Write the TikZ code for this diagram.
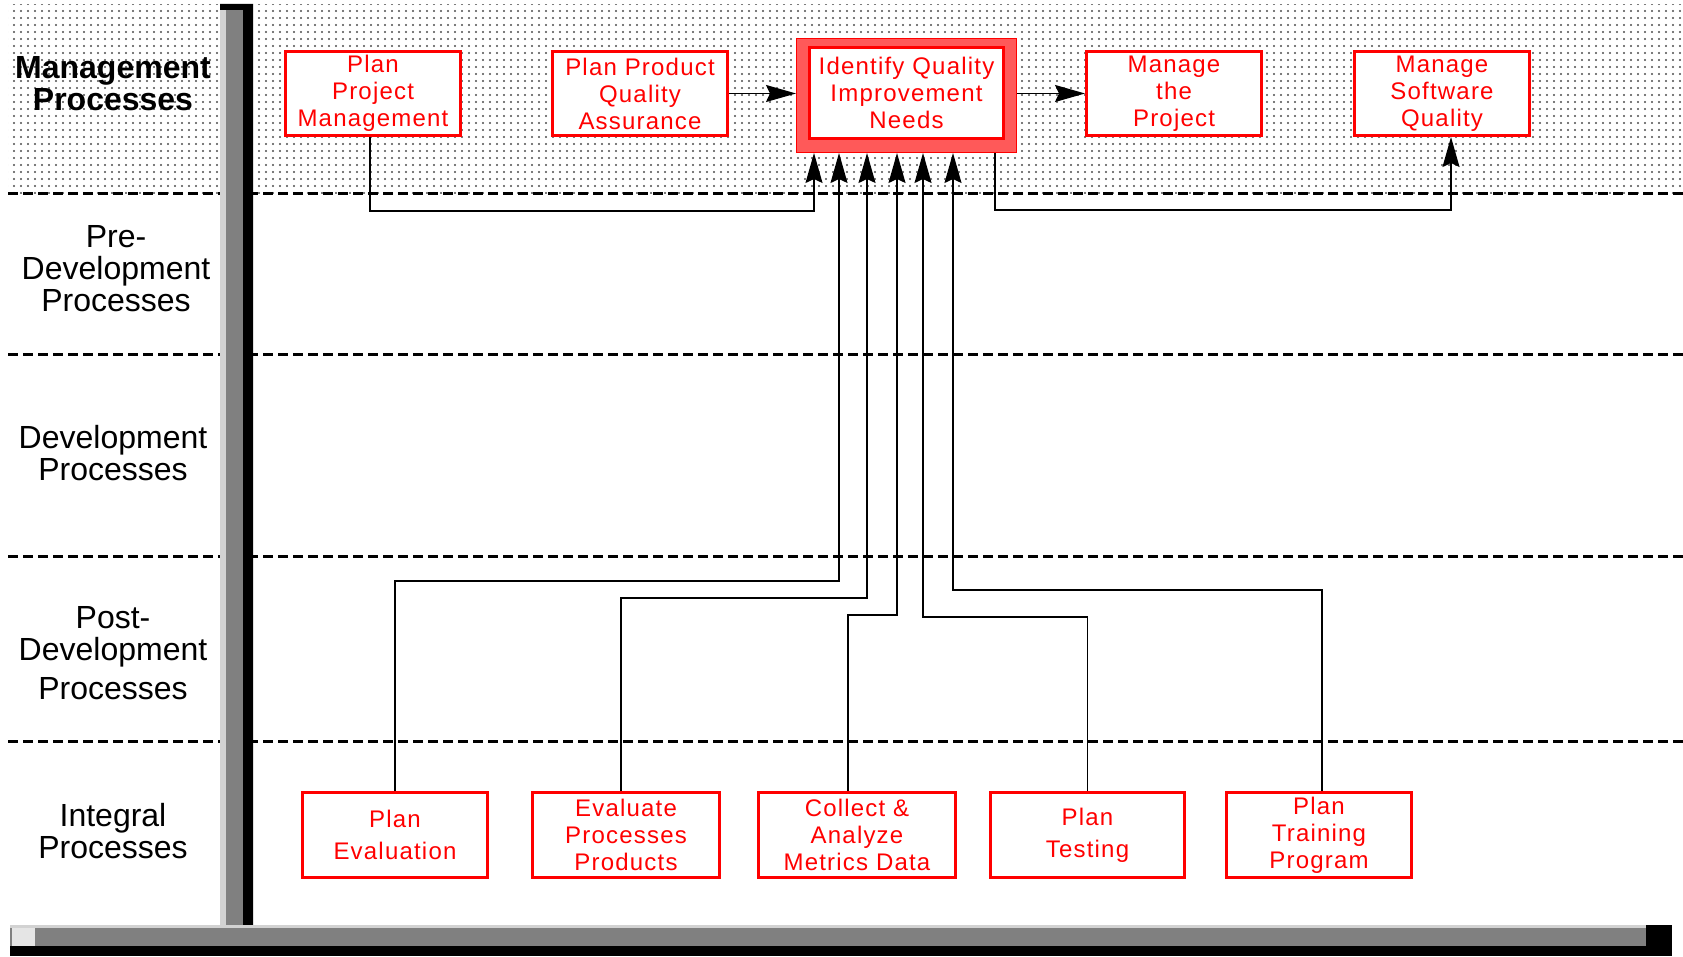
\documentclass[tikz,border=0pt]{standalone}
\usepackage{fontspec}
\setmainfont{Liberation Sans}
\newfontfamily\boxfont[LetterSpace=5]{Liberation Sans}
\usetikzlibrary{arrows.meta,positioning,patterns}
\pgfdeclarepatternformonly{bgdots}{\pgfqpoint{-1.5pt}{-1.5pt}}{\pgfqpoint{1.5pt}{1.5pt}}{\pgfqpoint{7pt}{7pt}}{\pgfpathcircle{\pgfqpoint{0pt}{0pt}}{1.1pt}\pgfusepath{fill}}

\begin{document}
\begin{tikzpicture}[x=1pt,y=1pt,
box/.style={draw=red,line width=3pt,fill=white,text=red,font=\boxfont\fontsize{24}{27}\selectfont,minimum width=175pt,minimum height=84pt,inner sep=0pt,align=center},
bot/.style={box,minimum height=85pt},
lane/.style={font=\fontsize{32}{32}\selectfont,align=center,inner sep=0pt},
sep/.style={line width=3pt,dash pattern=on 10pt off 5pt},
arr/.style={-{Stealth[length=30pt,width=17pt,inset=4pt]},line width=1.6pt}]
\useasboundingbox (0,0) rectangle (1683,956);
\fill[pattern=bgdots,pattern color=black!70] (8,762) rectangle (1683,951);
\foreach \y in {762,601,399,214} \draw[sep] (8,\y) -- (1683,\y);
\node[lane,font=\bfseries\fontsize{32}{32}\selectfont] (mgmt) at (113,872) {Management\\Processes};
\node[lane] (pre) at (116,687) {Pre-\\Development\\Processes};
\node[lane] (dev) at (113,503) {Development\\Processes};
\node[lane] (post) at (113,303) {Post-\\Development\\[7pt]Processes};
\node[lane] (integ) at (113,124.5) {Integral\\Processes};
\fill[gray!35] (220,31) rectangle (226,952);
\fill[black!50] (226,31) rectangle (243,946);
\fill (243,31) rectangle (253,952) (220,946) rectangle (243,952);
\fill (10,0) rectangle (1672,10);
\fill[black!50] (10,10) rectangle (1672,28);
\fill[gray!35] (10,28) rectangle (1672,31);
\fill[gray!20] (12,10) rectangle (35,28);
\fill (1646,0) rectangle (1672,31);
\node[box] (ppm) at (373,862.5) {Plan\\Project\\Management};
\node[box,right=89pt of ppm] (ppqa) {Plan Product\\Quality\\Assurance};
\node[draw=red,line width=1pt,fill=red!65,minimum width=220pt,minimum height=114pt,right=67pt of ppqa,yshift=-2pt] (iq) {};
\node[box,minimum width=194pt,minimum height=91pt,yshift=2.5pt] (iqin) at (iq) {Identify Quality\\Improvement\\Needs};
\node[box,right=68pt of iq,yshift=2pt] (mtp) {Manage\\the\\Project};
\node[box,right=90pt of mtp] (msq) {Manage\\Software\\Quality};
\node[bot,minimum width=185pt] (pe) at (395,121) {Plan\\[5pt]Evaluation};
\node[bot,minimum width=187pt,right=42pt of pe] (epp) {Evaluate\\Processes\\Products};
\node[bot,minimum width=197pt,right=36pt of epp] (camd) {Collect \&\\Analyze\\Metrics Data};
\node[bot,minimum width=194pt,right=32pt of camd] (pt) {Plan\\[5pt]Testing};
\node[bot,minimum width=185pt,right=39pt of pt] (ptp) {Plan\\Training\\Program};
\draw[arr] (ppqa.east) -- (ppqa.east -| iq.west);
\draw[arr] (iq.east |- mtp.west) -- (mtp.west);
\draw[arr] ([xshift=-3pt]ppm.south) -- ++(0,-74pt) -| ([xshift=-92.5pt]iq.south);
\draw[arr] (pe.north) -- ++(0,210pt) -| ([xshift=-67.5pt]iq.south);
\draw[arr] ([xshift=-5pt]epp.north) -- ++(0,193pt) -| ([xshift=-39.5pt]iq.south);
\draw[arr] ([xshift=-9pt]camd.north) -- ++(0,176pt) -| ([xshift=-9.5pt]iq.south);
\draw[arr] (pt.north) -- ++(0,174pt) -| ([xshift=16.5pt]iq.south);
\draw[arr] ([xshift=3pt]ptp.north) -- ++(0,201pt) -| ([xshift=46.5pt]iq.south);
\draw[arr] ([xshift=88.5pt]iq.south) -- ++(0,-57pt) -| ([xshift=9pt]msq.south);
\end{tikzpicture}
\end{document}
